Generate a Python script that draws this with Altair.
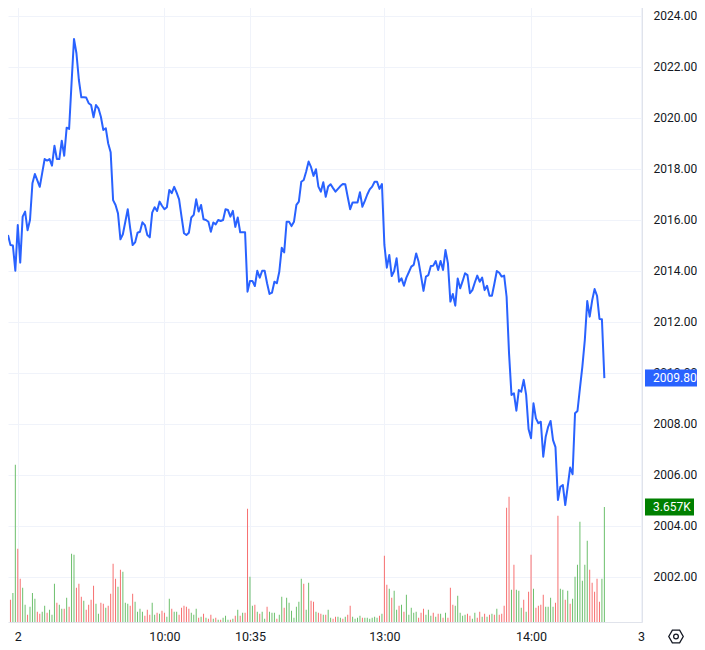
import altair as alt
import pandas as pd

# ---- data ----
price = [
    2015.41, 2015.02, 2015.00, 2014.01, 2015.80, 2014.33, 2016.13, 2016.33, 2015.60, 2016.00,
    2017.44, 2017.80, 2017.55, 2017.30, 2017.85, 2018.39, 2018.33, 2018.39, 2018.13, 2018.91,
    2018.39, 2018.39, 2019.11, 2018.52, 2019.62, 2019.57, 2021.36, 2023.10, 2022.54, 2021.49,
    2020.81, 2020.81, 2020.80, 2020.58, 2020.51, 2020.03, 2020.51, 2020.38, 2020.05, 2019.53,
    2019.60, 2019.00, 2018.66, 2016.78, 2016.59, 2016.26, 2015.24, 2015.44, 2015.93, 2016.42,
    2015.67, 2015.02, 2015.12, 2015.50, 2015.54, 2015.91, 2015.80, 2015.41, 2015.32, 2016.29,
    2016.50, 2016.35, 2016.72, 2016.56, 2016.42, 2016.50, 2017.18, 2017.05, 2017.30, 2017.07,
    2016.81, 2016.13, 2015.48, 2015.41, 2015.50, 2016.10, 2016.20, 2016.81, 2016.33, 2016.59,
    2016.03, 2016.00, 2015.93, 2015.54, 2015.90, 2015.83, 2016.00, 2015.96, 2016.00, 2016.42,
    2016.39, 2016.13, 2016.36, 2015.73, 2016.10, 2015.52, 2015.52, 2015.52, 2013.19, 2013.61,
    2013.61, 2013.41, 2014.01, 2013.74, 2014.01, 2014.01, 2013.52, 2013.10, 2013.15, 2013.58,
    2013.52, 2013.97, 2014.91, 2014.73, 2015.93, 2015.93, 2015.76, 2015.93, 2016.59, 2016.72,
    2017.50, 2017.57, 2017.90, 2018.29, 2018.07, 2017.73, 2017.99, 2017.31, 2017.11, 2017.48,
    2016.91, 2017.31, 2017.40, 2017.25, 2017.11, 2017.22, 2017.33, 2017.41, 2017.40, 2016.90,
    2016.42, 2016.69, 2016.69, 2016.69, 2017.09, 2016.52, 2016.75, 2017.00, 2017.20, 2017.31,
    2017.50, 2017.50, 2017.22, 2017.41, 2015.02, 2014.13, 2014.63, 2013.80, 2014.00, 2014.50,
    2013.58, 2013.71, 2013.42, 2013.74, 2013.95, 2014.17, 2014.24, 2014.69, 2014.36, 2013.80,
    2013.22, 2013.78, 2013.84, 2014.20, 2014.21, 2014.39, 2014.04, 2014.39, 2014.04, 2014.82,
    2014.30, 2012.80, 2013.10, 2012.64, 2013.71, 2013.32, 2013.60, 2013.91, 2013.84, 2013.13,
    2013.25, 2013.55, 2013.82, 2013.58, 2013.74, 2013.25, 2013.42, 2013.03, 2013.03, 2013.50,
    2014.00, 2013.93, 2013.78, 2013.82, 2012.99, 2010.77, 2009.14, 2009.20, 2008.52, 2009.33,
    2009.27, 2009.73, 2009.14, 2007.79, 2007.44, 2008.81, 2008.22, 2008.03, 2008.09, 2006.72,
    2007.50, 2007.89, 2008.12, 2007.37, 2007.09, 2005.02, 2005.54, 2005.61, 2004.82, 2005.54,
    2006.29, 2006.03, 2008.42, 2008.51, 2009.40, 2010.25, 2011.29, 2012.82, 2012.21, 2012.84,
    2013.29, 2013.03, 2012.12, 2012.11, 2009.80,
]

# volume bars start at bar index 1
volume = [
    710, 922, 5003, 2332, 1378, 1092, 551, 233, 488, 922,
    742, 329, 265, 329, 519, 297, 392, 233, 1219, 615,
    551, 424, 424, 774, 488, 2173, 2141, 1092, 1219, 806,
    678, 392, 551, 710, 1155, 583, 265, 615, 583, 456,
    519, 901, 1855, 1378, 1124, 1664, 1601, 615, 583, 519,
    901, 647, 329, 424, 329, 201, 392, 233, 615, 233,
    297, 265, 360, 297, 170, 742, 424, 329, 329, 233,
    456, 519, 488, 424, 297, 233, 424, 138, 170, 265,
    138, 106, 233, 106, 138, 74, 74, 138, 201, 74,
    74, 106, 201, 392, 201, 297, 297, 3604, 1442, 519,
    551, 329, 265, 329, 106, 488, 329, 297, 297, 106,
    233, 806, 456, 774, 615, 360, 138, 488, 647, 1378,
    1219, 392, 1251, 678, 647, 329, 297, 265, 233, 233,
    392, 138, 106, 170, 170, 138, 106, 170, 233, 519,
    170, 106, 138, 201, 138, 138, 138, 106, 138, 170,
    138, 201, 265, 2109, 1187, 1060, 774, 996, 392, 519,
    551, 329, 869, 233, 456, 297, 329, 138, 297, 424,
    233, 392, 201, 297, 170, 265, 265, 138, 297, 138,
    1092, 551, 519, 837, 297, 201, 233, 265, 201, 106,
    297, 138, 329, 170, 265, 170, 233, 265, 233, 424,
    233, 265, 519, 3636, 3986, 1028, 1823, 1028, 996, 456,
    710, 329, 965, 2141, 1060, 456, 519, 551, 869, 488,
    488, 774, 488, 615, 3381, 1060, 1028, 710, 996, 583,
    742, 1442, 1823, 3191, 1314, 1823, 2586, 1664, 1251, 965,
    1378, 647, 1378, 3657,
]

volume_dir = list(
    "rggrrggrgg" "grrggrgggr" "ggrgrggrrr" "grrrrggrrg" "rrrrgrgggr"
    "rggggrrrgg" "rgrrggrggr" "rrrrgggrgr" "grrgrgrggg" "rgrgrgrrgg"
    "rgrggrgggr" "ggrggggggg" "rggrrgrrg"
    "rggrrggrgr" "rggggrgggg" "ggrgrrgrgg" "rgrgggggrr" "rgggrgrgrg"
    "rrrgggggrr" "ggrrgrgrgr" "grrrrrgrgg" "grgrrgrrrr" "ggggrrggrg"
    "rgggggggrr" "rrrgg"
)

time_tick_index = [4, 64, 99, 154, 214, 259]
time_tick_label = ["2", "10:00", "10:35", "13:00", "14:00", "3"]
price_ticks = [2002, 2004, 2006, 2008, 2010, 2012, 2014, 2016, 2018, 2020, 2022, 2024]

last_price = price[-1]
last_volume = volume[-1]

# ---- styling ----
FONT = "Roboto"
TEXT = "#131722"
GRID = "#f0f3fa"
BORDER = "#e0e3eb"
LINE = "#2962ff"
UP = "#6cbf6c"
DOWN = "#f77070"
W, H = 634, 622
XDOM = [0, 259.4]
PDOM = [2000.235, 2024.627]
VDOM = [0, 19777]

pdf = pd.DataFrame({"i": list(range(len(price))), "p": price})
vdf = pd.DataFrame({"i": list(range(1, len(volume) + 1)), "v": volume, "d": volume_dir})

label_expr = " : ".join(
    f"datum.value == {v} ? '{t}'" for v, t in zip(time_tick_index, time_tick_label)
) + " : ''"

xscale = alt.Scale(domain=XDOM, nice=False, zero=False, padding=0)
xaxis = alt.Axis(
    values=time_tick_index, labelExpr=label_expr, grid=True, gridColor=GRID,
    ticks=False, domainColor=BORDER, labelPadding=8, labelFontSize=12.5,
    labelColor=TEXT, labelFont=FONT, title=None, labelFlush=False, labelOverlap=False,
)
xenc = alt.X("i:Q", scale=xscale, axis=xaxis)

pscale = alt.Scale(domain=PDOM, nice=False, zero=False)
vscale = alt.Scale(domain=VDOM, nice=False)

bars = alt.Chart(vdf).mark_bar(size=1, orient="vertical").encode(
    x=xenc,
    y=alt.Y("v:Q", scale=vscale, axis=None),
    color=alt.Color("d:N", scale=alt.Scale(domain=["g", "r"], range=[UP, DOWN]), legend=None),
)

line = alt.Chart(pdf).mark_line(color=LINE, strokeWidth=2, strokeJoin="round").encode(
    x=xenc,
    y=alt.Y(
        "p:Q", scale=pscale,
        axis=alt.Axis(
            orient="right", values=price_ticks, format=".2f", grid=True, gridColor=GRID,
            ticks=False, domainColor=BORDER, labelPadding=11, labelFontSize=12,
            labelColor=TEXT, labelFont=FONT, title=None,
        ),
    ),
)

plab = pd.DataFrame({"p": [last_price], "t": [f"{last_price:.2f}"]})
vlab = pd.DataFrame({"v": [last_volume], "t": [f"{last_volume / 1000:.3f}K"]})

# label boxes on the price axis (x in plot-area pixels, right of the plot)
pbox = alt.Chart(plab).mark_rect(color=LINE, yOffset=-8.5, y2Offset=8.5).encode(
    x=alt.value(W + 3), x2=alt.value(W + 56),
    y=alt.Y("p:Q", scale=pscale, axis=None), y2=alt.Y2("p:Q"),
)
ptxt = alt.Chart(plab).mark_text(align="left", baseline="middle", color="white",
                                 font=FONT, fontSize=12).encode(
    x=alt.value(W + 11), y=alt.Y("p:Q", scale=pscale, axis=None), text="t:N",
)
vbox = alt.Chart(vlab).mark_rect(color="#008000", yOffset=-8.5, y2Offset=8.5).encode(
    x=alt.value(W + 3), x2=alt.value(W + 52),
    y=alt.Y("v:Q", scale=vscale, axis=None), y2=alt.Y2("v:Q"),
)
vtxt = alt.Chart(vlab).mark_text(align="left", baseline="middle", color="white",
                                 font=FONT, fontSize=12).encode(
    x=alt.value(W + 11), y=alt.Y("v:Q", scale=vscale, axis=None), text="t:N",
)

icon_df = pd.DataFrame({"k": [0]})
hexagon = alt.Chart(icon_df).mark_point(
    shape="M-1,0 L-0.5,-0.87 L0.5,-0.87 L1,0 L0.5,0.87 L-0.5,0.87 Z",
    size=210, filled=False, stroke=TEXT, strokeWidth=1.3, opacity=1,
).encode(x=alt.value(W + 34), y=alt.value(636.5))
dot = alt.Chart(icon_df).mark_point(
    shape="circle", size=22, filled=False, stroke=TEXT, strokeWidth=1.3, opacity=1,
).encode(x=alt.value(W + 34), y=alt.value(636.5))

chart = alt.layer(bars, line, pbox, ptxt, vbox, vtxt, hexagon, dot).resolve_scale(
    y="independent"
).properties(
    width=W, height=H,
    autosize=alt.AutoSizeParams(type="none"),
    padding={"left": 0, "top": -8, "right": 55, "bottom": 22},
    background="white",
).configure_view(stroke=None)

chart.save("out.html", embed_options={"renderer": "svg", "actions": False})
